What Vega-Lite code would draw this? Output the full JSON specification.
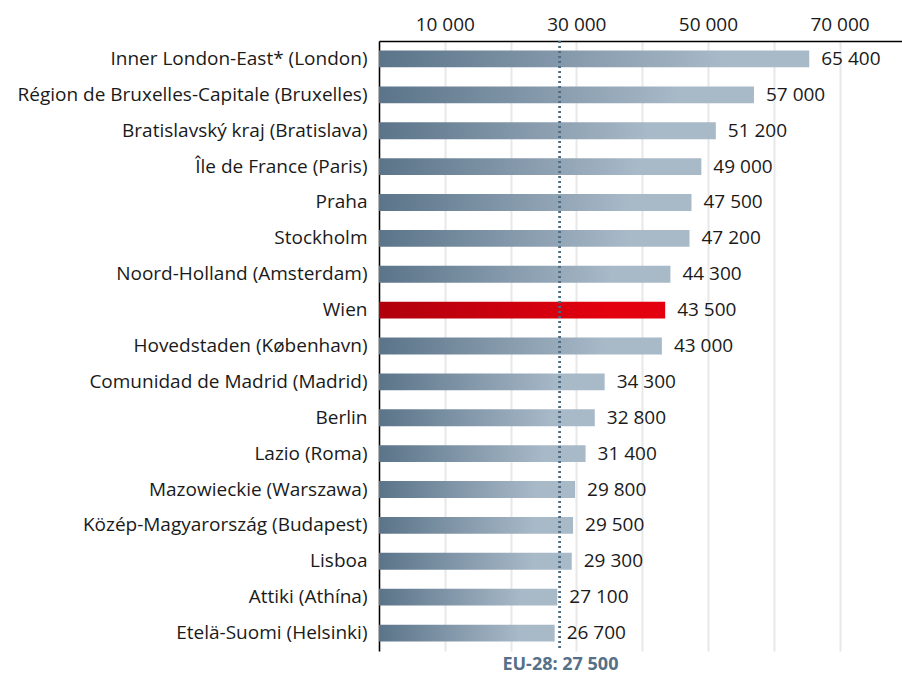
{
  "$schema": "https://vega.github.io/schema/vega-lite/v6.json",
  "width": 523,
  "height": 610,
  "autosize": {"type": "none"},
  "padding": {"left": 379, "top": 41, "right": 0, "bottom": 26},
  "background": "white",
  "config": {
    "view": {"stroke": null},
    "font": "Open Sans",
    "locale": {"number": {"decimal": ".", "thousands": " ", "grouping": [3], "currency": ["", ""]}},
    "axis": {"labelFont": "Open Sans", "labelFontSize": 19, "labelColor": "#1a1a1a"}
  },
  "data": {
    "values": [
      {"region": "Inner London-East* (London)", "value": 65400, "vienna": false},
      {"region": "Région de Bruxelles-Capitale (Bruxelles)", "value": 57000, "vienna": false},
      {"region": "Bratislavský kraj (Bratislava)", "value": 51200, "vienna": false},
      {"region": "Île de France (Paris)", "value": 49000, "vienna": false},
      {"region": "Praha", "value": 47500, "vienna": false},
      {"region": "Stockholm", "value": 47200, "vienna": false},
      {"region": "Noord-Holland (Amsterdam)", "value": 44300, "vienna": false},
      {"region": "Wien", "value": 43500, "vienna": true},
      {"region": "Hovedstaden (København)", "value": 43000, "vienna": false},
      {"region": "Comunidad de Madrid (Madrid)", "value": 34300, "vienna": false},
      {"region": "Berlin", "value": 32800, "vienna": false},
      {"region": "Lazio (Roma)", "value": 31400, "vienna": false},
      {"region": "Mazowieckie (Warszawa)", "value": 29800, "vienna": false},
      {"region": "Közép-Magyarország (Budapest)", "value": 29500, "vienna": false},
      {"region": "Lisboa", "value": 29300, "vienna": false},
      {"region": "Attiki (Athína)", "value": 27100, "vienna": false},
      {"region": "Etelä-Suomi (Helsinki)", "value": 26700, "vienna": false}
    ]
  },
  "encoding": {
    "y": {
      "field": "region", "type": "nominal", "sort": null, "title": null,
      "scale": {"paddingInner": 0.53, "paddingOuter": 0.265},
      "axis": {"ticks": false, "domainColor": "#000000", "domainWidth": 1.5, "labelPadding": 12, "labelLimit": 400}
    }
  },
  "layer": [
    {
      "mark": {"type": "bar"},
      "encoding": {
        "x": {
          "field": "value", "type": "quantitative", "title": null,
          "scale": {"domain": [0, 79500], "nice": false},
          "axis": {
            "orient": "top",
            "values": [0, 10000, 20000, 30000, 40000, 50000, 60000, 70000],
            "labelExpr": "datum.value % 20000 == 10000 ? format(datum.value, ',') : ''",
            "ticks": false, "domainColor": "#000000", "domainWidth": 1.5,
            "gridColor": "#e8e8e8", "gridWidth": 2, "labelPadding": 7, "labelDx": 6
          }
        },
        "color": {
          "condition": {"test": "datum.vienna", "value": {"gradient": "linear", "x1": 0, "x2": 1, "y1": 0, "y2": 0, "stops": [{"offset": 0, "color": "#b0000d"}, {"offset": 0.8, "color": "#e3000f"}, {"offset": 1, "color": "#e3000f"}]}},
          "value": {"gradient": "linear", "x1": 0, "x2": 1, "y1": 0, "y2": 0, "stops": [{"offset": 0, "color": "#5b7489"}, {"offset": 0.8, "color": "#a8b9c8"}, {"offset": 1, "color": "#a8b9c8"}]}
        }
      }
    },
    {
      "mark": {"type": "text", "align": "left", "baseline": "middle", "dx": 12, "fontSize": 19, "font": "Open Sans", "color": "#1a1a1a"},
      "encoding": {
        "x": {"field": "value", "type": "quantitative", "axis": null},
        "text": {"field": "value", "type": "quantitative", "format": ","}
      }
    },
    {
      "mark": {"type": "rule", "color": "#4f6c84", "strokeWidth": 2, "strokeDash": [2, 3]},
      "encoding": {
        "x": {
          "datum": 27500, "type": "quantitative",
          "axis": {
            "orient": "bottom", "values": [27500], "labelExpr": "'EU-28: 27 500'",
            "labelFontWeight": "bold", "labelColor": "#557088", "labelPadding": 4, "labelFontSize": 18,
            "ticks": false, "domain": false, "grid": false, "title": null
          }
        },
        "y": null
      }
    }
  ],
  "resolve": {"axis": {"x": "independent"}}
}
